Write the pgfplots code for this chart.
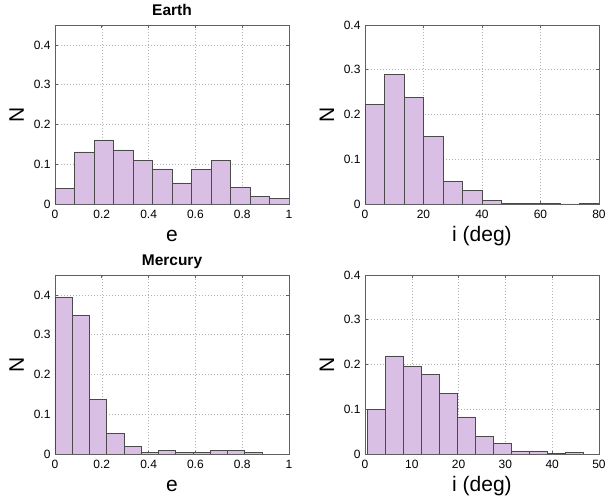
\documentclass[border=0pt]{standalone}
\usepackage{fontspec}
\setmainfont{Liberation Sans}
\usepackage{pgfplots}
\pgfplotsset{compat=1.18}
\definecolor{barfill}{HTML}{D8BFE3}
\definecolor{baredge}{HTML}{4A4A4A}
\definecolor{boxcol}{HTML}{606060}
\pgfplotsset{
  myax/.style={
    scale only axis, width=234pt, height=179pt,
    anchor=south west,
    /pgf/number format/assume math mode=true,
    axis line style={boxcol, line width=0.7pt},
    tick style={boxcol, line width=0.6pt},
    tick align=inside, major tick length=3pt,
    xtick pos=both, ytick pos=both,
    grid=major,
    major grid style={gray!60, line width=0.5pt, dash pattern=on 1pt off 2pt},
    ymin=0,
    ytick={0,0.1,0.2,0.3,0.4},
    yticklabel style={/pgf/number format/fixed, font=\fontsize{12}{13}\selectfont, xshift=-1pt},
    xticklabel style={font=\fontsize{12}{13}\selectfont, yshift=-2.5pt},
    every axis x label/.style={at={(axis description cs:0.5,0)}, yshift=-38pt, anchor=base, font=\fontsize{21}{22}\selectfont},
    every axis y label/.style={at={(axis description cs:0,0.5)}, xshift=-31pt, rotate=90, anchor=base, font=\fontsize{21}{22}\selectfont},
    every axis title/.style={at={(axis description cs:0.5,1)}, yshift=10pt, anchor=base, font=\fontsize{15.5}{16}\selectfont\bfseries},
  },
  hbar/.style={ybar interval, fill=barfill, draw=baredge, line width=0.7pt},
}
\begin{document}
\begin{tikzpicture}
\useasboundingbox (0,0) rectangle (606pt,501pt);
% Earth e
\begin{axis}[myax, at={(55pt,297pt)}, xmin=0, xmax=1, ymax=0.45,
  xtick={0,0.2,0.4,0.6,0.8,1}, xticklabels={0,0.2,0.4,0.6,0.8,1},
  xlabel={e}, ylabel={N}, title={Earth}]
\addplot[hbar] coordinates {
(0,0.040) (0.08333,0.131) (0.16667,0.161) (0.25,0.136) (0.33333,0.110)
(0.41667,0.088) (0.5,0.053) (0.58333,0.087) (0.66667,0.110) (0.75,0.041)
(0.83333,0.020) (0.91667,0.013) (1,0)};
\end{axis}
% Earth i
\begin{axis}[myax, at={(365pt,297pt)}, xmin=0, xmax=80, ymax=0.4,
  xtick={0,20,40,60,80},
  xlabel={i (deg)}, ylabel={N}]
\addplot[hbar] coordinates {
(0,0.223) (6.6667,0.290) (13.3333,0.239) (20,0.151) (26.6667,0.050)
(33.3333,0.030) (40,0.008) (46.6667,0.001) (53.3333,0.001) (60,0.001)
(66.6667,0) (73.3333,0.001) (80,0)};
\end{axis}
% Mercury e
\begin{axis}[myax, at={(55pt,47pt)}, xmin=0, xmax=1, ymax=0.45,
  xtick={0,0.2,0.4,0.6,0.8,1}, xticklabels={0,0.2,0.4,0.6,0.8,1},
  xlabel={e}, ylabel={N}, title={Mercury}]
\addplot[hbar] coordinates {
(0,0.395) (0.0737,0.349) (0.1475,0.138) (0.2212,0.051) (0.295,0.018)
(0.3687,0.005) (0.4425,0.008) (0.5162,0.003) (0.59,0.004) (0.6637,0.008)
(0.7375,0.010) (0.8112,0.003) (0.885,0)};
\end{axis}
% Mercury i
\begin{axis}[myax, at={(365pt,47pt)}, xmin=0, xmax=50, ymax=0.4,
  xtick={0,10,20,30,40,50},
  xlabel={i (deg)}, ylabel={N}]
\addplot[hbar] coordinates {
(0.57,0.099) (4.41,0.219) (8.25,0.196) (12.09,0.178) (15.93,0.136)
(19.77,0.083) (23.61,0.039) (27.45,0.023) (31.29,0.007) (35.13,0.007)
(38.97,0.002) (42.81,0.003) (46.65,0)};
\end{axis}
\end{tikzpicture}
\end{document}
